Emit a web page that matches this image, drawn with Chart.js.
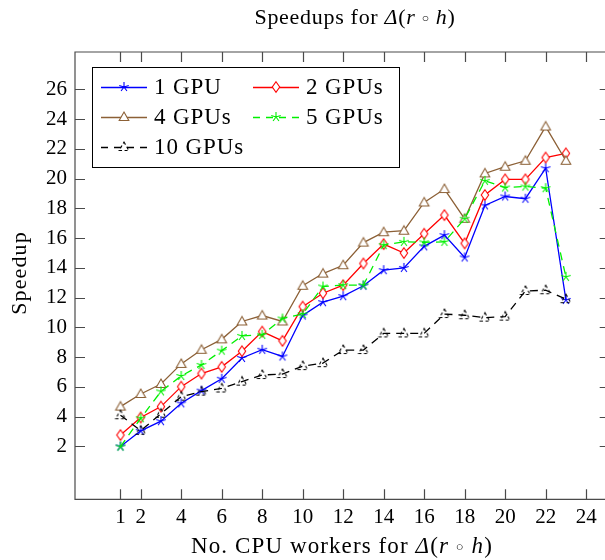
<!DOCTYPE html>
<html>
<head>
<meta charset="utf-8">
<script src="https://cdn.jsdelivr.net/npm/chart.js@4.4.0/dist/chart.umd.min.js"></script>
<style>
  html, body { margin: 0; padding: 0; background: #fff; }
</style>
</head>
<body>
<canvas id="speedup-chart" width="605" height="560"></canvas>
<script>
// Data
const workers = [1, 2, 3, 4, 5, 6, 7, 8, 9, 10, 11, 12, 13, 14, 15, 16, 17, 18, 19, 20, 21, 22, 23];
const gpu1 = [2.0, 3.05, 3.7, 4.9, 5.75, 6.55, 7.95, 8.5, 8.05, 10.8, 11.7, 12.1, 12.8, 13.85, 14.0, 15.45, 16.2, 14.7, 18.2, 18.8, 18.65, 20.7, 11.85];
const gpu2 = [2.77, 3.95, 4.68, 6.02, 6.9, 7.35, 8.4, 9.72, 9.1, 11.4, 12.3, 12.84, 14.3, 15.6, 15.0, 16.3, 17.55, 15.65, 18.9, 19.95, 19.95, 21.42, 21.7];
const gpu4 = [4.68, 5.53, 6.2, 7.55, 8.5, 9.2, 10.4, 10.8, 10.4, 12.8, 13.62, 14.18, 15.7, 16.4, 16.5, 18.4, 19.3, 17.3, 20.35, 20.8, 21.2, 23.5, 21.2];
const gpu5 = [1.99, 3.9, 5.7, 6.74, 7.48, 8.44, 9.43, 9.5, 10.6, 10.9, 12.75, 12.84, 12.84, 15.53, 15.75, 15.72, 15.75, 17.3, 19.85, 19.4, 19.47, 19.36, 13.4];
const gpu10 = [4.1, 3.06, 4.2, 5.35, 5.69, 5.9, 6.36, 6.8, 6.87, 7.4, 7.6, 8.48, 8.48, 9.6, 9.6, 9.6, 10.9, 10.82, 10.66, 10.73, 12.45, 12.5, 11.9];
const seriesNames = ['1 GPU', '2 GPUs', '4 GPUs', '5 GPUs', '10 GPUs'];
const xTicks = [1, 2, 4, 6, 8, 10, 12, 14, 16, 18, 20, 22, 24];
const yTicks = [2, 4, 6, 8, 10, 12, 14, 16, 18, 20, 22, 24, 26];

const FONT = "'Liberation Serif', 'DejaVu Serif', serif";
const AXIS_COLOR = '#4a4a4a';

// little canvases used as point markers
function makeMarker(kind, color) {
    const c = document.createElement('canvas');
    c.width = 16; c.height = 16;
    const g = c.getContext('2d');
    g.translate(8, 8);
    g.strokeStyle = color;
    g.lineWidth = 1.1;
    g.beginPath();
    if (kind === 'star') {
        for (let i = 0; i < 5; i++) {
            const a = -Math.PI / 2 + i * 2 * Math.PI / 5;
            g.moveTo(0, 0);
            g.lineTo(5 * Math.cos(a), 5 * Math.sin(a));
        }
        g.stroke();
    } else if (kind === 'diamond') {
        g.moveTo(0, -5.2); g.lineTo(3.7, 0); g.lineTo(0, 5.2); g.lineTo(-3.7, 0); g.closePath();
        g.fillStyle = '#fff'; g.fill(); g.stroke();
    } else if (kind === 'triangle') {
        g.moveTo(0, -5); g.lineTo(4.8, 3.5); g.lineTo(-4.8, 3.5); g.closePath();
        g.fillStyle = '#fff'; g.fill(); g.stroke();
    } else if (kind === 'dashtri') {
        g.setLineDash([3, 2.5]);
        g.moveTo(0, -5); g.lineTo(4.8, 3.5); g.lineTo(-4.8, 3.5); g.closePath();
        g.stroke();
    }
    return c;
}

const styles = [
    { color: '#0000ff', dash: [], marker: 'star' },
    { color: '#ff0000', dash: [], marker: 'diamond' },
    { color: 'rgb(140,96,54)', dash: [], marker: 'triangle' },
    { color: '#00f000', dash: [8, 6], marker: 'star' },
    { color: '#000000', dash: [8, 6], marker: 'dashtri' }
];
const allValues = [gpu1, gpu2, gpu4, gpu5, gpu10];

const datasets = allValues.map(function (vals, i) {
    const st = styles[i];
    return {
        label: seriesNames[i],
        data: workers.map(function (w, j) { return { x: w, y: vals[j] }; }),
        borderColor: st.color,
        borderWidth: 1.3,
        borderDash: st.dash,
        pointStyle: makeMarker(st.marker, st.color),
        pointRadius: 5,
        tension: 0,
        fill: false,
        order: 5 - i
    };
});

// draw text made of upright / italic pieces; a piece may carry its own size
function drawMixed(ctx, parts, cx, cy, size, spacing) {
    const fontOf = function (p) {
        return (p[1] ? 'italic ' : '') + (p[2] || size) + 'px ' + FONT;
    };
    ctx.letterSpacing = spacing + 'px';
    let total = 0;
    parts.forEach(function (p) {
        ctx.font = fontOf(p);
        total += ctx.measureText(p[0]).width;
    });
    let x = cx - total / 2;
    ctx.textAlign = 'left';
    ctx.textBaseline = 'middle';
    parts.forEach(function (p) {
        ctx.font = fontOf(p);
        ctx.fillText(p[0], x, cy + (p[2] ? 1 : 0));
        x += ctx.measureText(p[0]).width;
    });
    ctx.letterSpacing = '0px';
}

function deltaRH(size) {
    return [['\u0394', true], ['(', false], ['r', true], [' ', false], ['\u25CB', false, Math.round(size * 0.55)],
        [' ', false], ['h', true], [')', false]];
}

// box with inward ticks; the right side of the box lies just past the canvas edge
const framePlugin = {
    id: 'frame',
    afterDatasetsDraw(chart) {
        const ctx = chart.ctx;
        const a = chart.chartArea;
        const xs = chart.scales.x, ys = chart.scales.y;
        const rightEdge = a.right + 11;
        ctx.save();
        ctx.strokeStyle = AXIS_COLOR;
        ctx.lineWidth = 1.2;
        ctx.setLineDash([]);
        ctx.beginPath();
        ctx.moveTo(rightEdge, a.top); ctx.lineTo(a.left, a.top);
        ctx.lineTo(a.left, a.bottom); ctx.lineTo(rightEdge, a.bottom);
        xTicks.forEach(function (v) {
            const px = Math.round(xs.getPixelForValue(v)) + 0.5;
            ctx.moveTo(px, a.bottom); ctx.lineTo(px, a.bottom - 10);
            ctx.moveTo(px, a.top); ctx.lineTo(px, a.top + 10);
        });
        yTicks.forEach(function (v) {
            const py = Math.round(ys.getPixelForValue(v)) + 0.5;
            ctx.moveTo(a.left, py); ctx.lineTo(a.left + 10, py);
            ctx.moveTo(rightEdge, py); ctx.lineTo(rightEdge - 10, py);
        });
        ctx.stroke();
        ctx.restore();
    }
};

const legendPlugin = {
    id: 'boxLegend',
    afterDraw(chart) {
        const ctx = chart.ctx;
        const box = { x: 92, y: 67, w: 307, h: 100 };
        ctx.save();
        ctx.fillStyle = '#fff';
        ctx.fillRect(box.x, box.y, box.w, box.h);
        ctx.strokeStyle = '#000';
        ctx.lineWidth = 1;
        ctx.strokeRect(box.x + 0.5, box.y + 0.5, box.w, box.h);
        const cols = [101, 253];
        chart.data.datasets.forEach(function (ds, i) {
            const row = Math.floor(i / 2), col = i % 2;
            const x0 = cols[col], y0 = 87 + row * 30;
            ctx.strokeStyle = ds.borderColor;
            ctx.lineWidth = ds.borderWidth;
            ctx.setLineDash(ds.borderDash.length ? [7, 6] : []);
            ctx.beginPath();
            ctx.moveTo(x0, y0 + 0.5); ctx.lineTo(x0 + 46, y0 + 0.5);
            ctx.stroke();
            ctx.setLineDash([]);
            ctx.drawImage(ds.pointStyle, x0 + 23 - 8, y0 - 8);
            ctx.fillStyle = '#000';
            ctx.font = '23px ' + FONT;
            ctx.letterSpacing = '0.9px';
            ctx.textAlign = 'left';
            ctx.textBaseline = 'middle';
            ctx.fillText(ds.label, x0 + 53, y0 + 1);
            ctx.letterSpacing = '0px';
        });
        ctx.restore();
    }
};

const labelsPlugin = {
    id: 'mixedLabels',
    afterDraw(chart) {
        const ctx = chart.ctx;
        ctx.save();
        ctx.fillStyle = '#000';
        drawMixed(ctx, [['Speedups for ', false]].concat(deltaRH(22)), 355, 18, 22, 0.7);
        drawMixed(ctx, [['No. CPU workers for ', false]].concat(deltaRH(23)), 342, 547, 23, 1.1);
        ctx.translate(20, 273);
        ctx.rotate(-Math.PI / 2);
        drawMixed(ctx, [['Speedup', false]], 0, 0, 22, 1.1);
        ctx.restore();
    }
};

document.addEventListener('DOMContentLoaded', function () {
    const ctx = document.getElementById('speedup-chart').getContext('2d');
    new Chart(ctx, {
        type: 'line',
        data: { datasets: datasets },
        options: {
            responsive: false,
            animation: false,
            devicePixelRatio: 1,
            layout: { padding: { top: 52, right: 0, left: 0, bottom: 0 } },
            plugins: {
                legend: { display: false },
                tooltip: { enabled: false },
                title: { display: false }
            },
            scales: {
                x: {
                    type: 'linear',
                    min: -1.246,
                    max: 24.62,
                    afterFit: function (scale) { scale.height = 60.7; },
                    afterBuildTicks: function (scale) {
                        scale.ticks = xTicks.map(function (v) { return { value: v }; });
                    },
                    grid: { display: false, drawTicks: false },
                    border: { display: false },
                    ticks: {
                        padding: 6,
                        maxRotation: 0,
                        autoSkip: false,
                        color: '#000',
                        font: { family: FONT, size: 21 }
                    }
                },
                y: {
                    type: 'linear',
                    min: -1.55,
                    max: 28.51,
                    afterFit: function (scale) { scale.width = 75; },
                    afterBuildTicks: function (scale) {
                        scale.ticks = yTicks.map(function (v) { return { value: v }; });
                    },
                    grid: { display: false, drawTicks: false },
                    border: { display: false },
                    ticks: {
                        padding: 8,
                        autoSkip: false,
                        color: '#000',
                        font: { family: FONT, size: 21 }
                    }
                }
            }
        },
        plugins: [framePlugin, legendPlugin, labelsPlugin]
    });
});
</script>
</body>
</html>
